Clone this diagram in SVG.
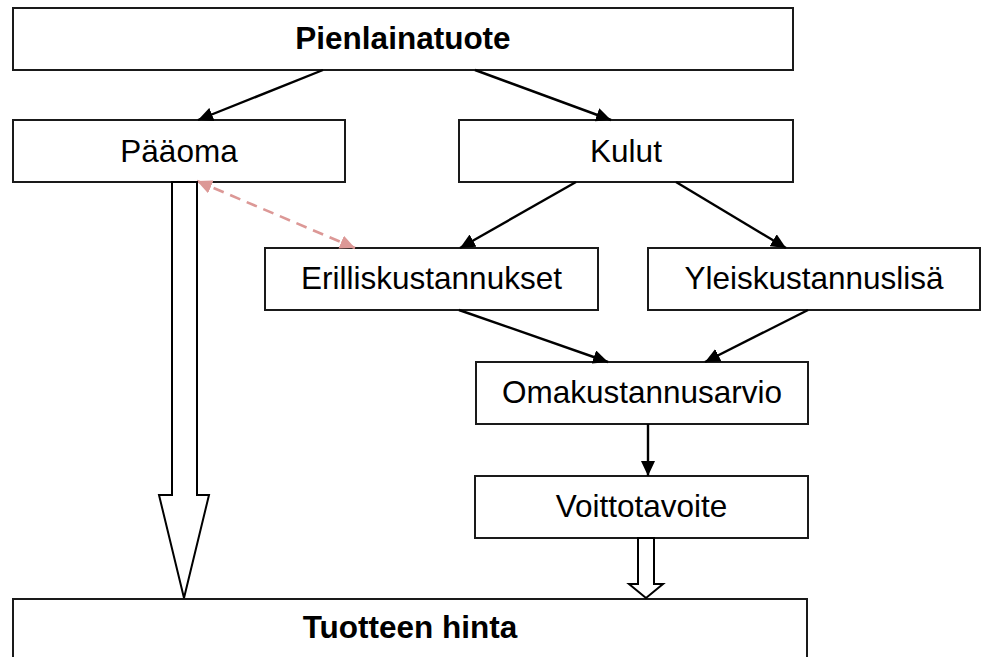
<svg xmlns="http://www.w3.org/2000/svg" width="983" height="657" viewBox="0 0 983 657">
<style>
.box{fill:#fff;stroke:#1a1a1a;stroke-width:2}
.t{font-family:"Liberation Sans",Arial,sans-serif;font-size:31.5px;fill:#000;text-anchor:middle}
.b{font-weight:bold}
.ln{stroke:#000;stroke-width:2.4;fill:none;marker-end:url(#ah)}
.dash{stroke:#dc9896;stroke-width:2.6;fill:none;stroke-dasharray:11 7;marker-start:url(#ap);marker-end:url(#ap)}
.hollow{fill:#fff;stroke:#000;stroke-width:2;stroke-linejoin:miter}
</style>
<defs>
<marker id="ah" viewBox="0 0 15 14" refX="15" refY="7" markerWidth="15" markerHeight="14" markerUnits="userSpaceOnUse" orient="auto">
<path d="M0,0 L15,7 L0,14 z" fill="#000"/>
</marker>
<marker id="ap" viewBox="0 0 15 14" refX="15" refY="7" markerWidth="15" markerHeight="14" markerUnits="userSpaceOnUse" orient="auto-start-reverse">
<path d="M0,0 L15,7 L0,14 z" fill="#dc9896"/>
</marker>
</defs>
<rect width="983" height="657" fill="#fff"/>

<g id="n-pienlainatuote">
<rect class="box" x="13" y="8" width="780" height="62"/>
<text class="t b" x="403" y="49">Pienlainatuote</text>
</g>
<g id="n-paaoma">
<rect class="box" x="13" y="120" width="332" height="62"/>
<text class="t" x="179" y="162">Pääoma</text>
</g>
<g id="n-kulut">
<rect class="box" x="459" y="120" width="334" height="62"/>
<text class="t" x="626" y="162">Kulut</text>
</g>
<g id="n-erilliskustannukset">
<rect class="box" x="265" y="248" width="333" height="62"/>
<text class="t" x="431.5" y="289">Erilliskustannukset</text>
</g>
<g id="n-yleiskustannuslisa">
<rect class="box" x="648" y="248" width="332" height="62"/>
<text class="t" x="814" y="289">Yleiskustannuslisä</text>
</g>
<g id="n-omakustannusarvio">
<rect class="box" x="476" y="362" width="332" height="62"/>
<text class="t" x="642" y="403">Omakustannusarvio</text>
</g>
<g id="n-voittotavoite">
<rect class="box" x="475" y="476" width="333" height="62"/>
<text class="t" x="641.5" y="517">Voittotavoite</text>
</g>
<g id="n-tuotteen-hinta">
<rect class="box" x="13" y="599" width="794" height="80"/>
<text class="t b" x="410" y="638">Tuotteen hinta</text>
</g>

<g id="connectors">
<line class="ln" x1="323" y1="70" x2="198" y2="120"/>
<line class="ln" x1="475" y1="70" x2="611" y2="120"/>
<line class="ln" x1="576" y1="182" x2="460" y2="248"/>
<line class="ln" x1="676" y1="182" x2="786" y2="248"/>
<line class="ln" x1="459" y1="310" x2="608" y2="362"/>
<line class="ln" x1="808" y1="310" x2="705" y2="362"/>
<line class="ln" x1="648" y1="424" x2="648" y2="476"/>
<line class="dash" x1="197" y1="181" x2="355" y2="248"/>
<polygon class="hollow" points="172,182 197,182 197,495 209,495 184,598 159,495 172,495"/>
<polygon class="hollow" points="638,538 654,538 654,584 663,584 646,598 629,584 638,584"/>
</g>
</svg>
